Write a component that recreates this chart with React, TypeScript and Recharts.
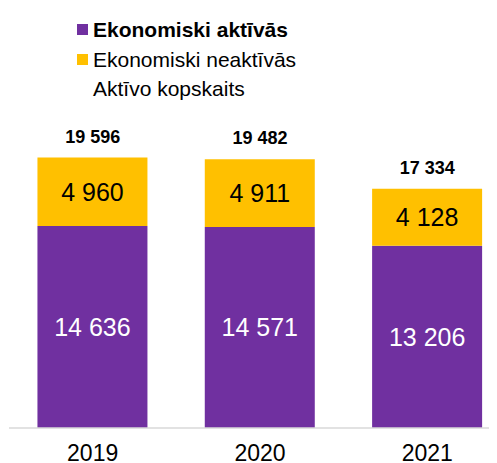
import { ComposedChart, Bar, Line, XAxis, YAxis, LabelList, Legend } from "recharts"

const years = ["2019", "2020", "2021"]
const active = [14636, 14571, 13206]
const inactive = [4960, 4911, 4128]
const totals = [19596, 19482, 17334]

const seriesNames = ["Ekonomiski aktīvās", "Ekonomiski neaktīvās", "Aktīvo kopskaits"]
const seriesColors = ["#7030A0", "#FFC000", "none"]

const data = years.map((year, i) => ({
  year,
  active: active[i],
  inactive: inactive[i],
  total: totals[i],
}))

const FONT = "'Liberation Sans', Arial, sans-serif"

const fmt = (v: any) => String(v).replace(/\B(?=(\d{3})+(?!\d))/g, " ")

function renderLegend() {
  return (
    <div style={{ fontFamily: FONT, fontSize: 21, color: "#000" }}>
      {seriesNames.map((name, i) => (
        <div key={name} style={{ display: "flex", alignItems: "center", height: 29.5, lineHeight: "29.5px" }}>
          <span
            style={{
              display: "inline-block",
              width: 11,
              height: 11,
              marginRight: 5,
              background: seriesColors[i] === "none" ? "transparent" : seriesColors[i],
            }}
          />
          <span style={{ fontWeight: i === 0 ? "bold" : "normal", whiteSpace: "nowrap" }}>{name}</span>
        </div>
      ))}
    </div>
  )
}

function YearTick(props: any) {
  const { x, y, payload } = props
  return (
    <text x={x} y={y} dy={25} textAnchor="middle" fontFamily={FONT} fontSize={23} fill="#000">
      {payload.value}
    </text>
  )
}

export default function App() {
  return (
    <div style={{ position: "relative", width: 489, height: 455, overflow: "hidden" }}>
      <ComposedChart
        width={503}
        height={455}
        data={data}
        margin={{ top: 144, right: 0, left: 1, bottom: 0 }}
        barCategoryGap="17%"
      >
        <Legend
          layout="vertical"
          align="center"
          verticalAlign="middle"
          content={renderLegend}
          wrapperStyle={{ top: 7, left: 69, width: "auto", height: "auto" }}
        />
        <XAxis
          dataKey="year"
          axisLine={{ stroke: "#D9D9D9", strokeWidth: 1.5 }}
          tickLine={false}
          height={35}
          tick={<YearTick />}
        />
        <YAxis hide domain={[0, 20000]} />
        <Bar dataKey="active" stackId="a" fill="#7030A0" isAnimationActive={false}>
          <LabelList
            dataKey="active"
            position="center"
            formatter={fmt}
            fill="#FFFFFF"
            fontSize={25}
            fontFamily={FONT}
          />
        </Bar>
        <Bar dataKey="inactive" stackId="a" fill="#FFC000" isAnimationActive={false}>
          <LabelList
            dataKey="inactive"
            position="center"
            formatter={fmt}
            fill="#000000"
            fontSize={25}
            fontFamily={FONT}
          />
        </Bar>
        <Line
          dataKey="total"
          stroke="none"
          dot={false}
          activeDot={false}
          isAnimationActive={false}
        >
          <LabelList
            dataKey="total"
            position="top"
            offset={15}
            formatter={fmt}
            fill="#000000"
            fontSize={18}
            fontWeight="bold"
            fontFamily={FONT}
          />
        </Line>
      </ComposedChart>
    </div>
  )
}
